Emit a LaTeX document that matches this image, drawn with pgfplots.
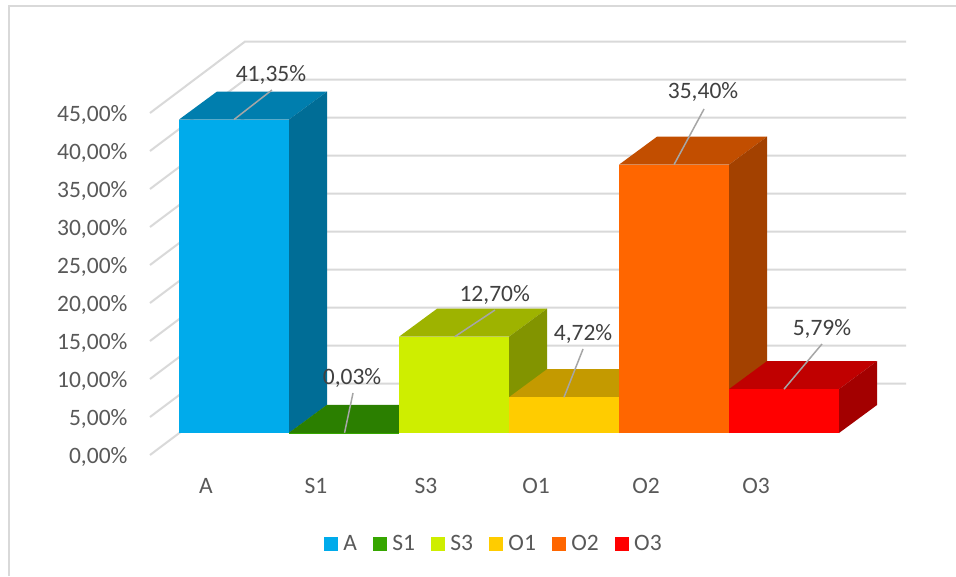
\documentclass[border=0pt]{standalone}
\usepackage{fontspec}
\setmainfont{Carlito}
\usepackage{pgfplots}
\pgfplotsset{compat=1.18}
\definecolor{grid}{HTML}{D9D9D9}
\definecolor{tick}{HTML}{595959}
\definecolor{lab}{HTML}{404040}
\definecolor{lead}{HTML}{A6A6A6}
\definecolor{Af}{HTML}{00ABEB}\definecolor{At}{HTML}{007EAE}\definecolor{As}{HTML}{006D96}
\definecolor{Bf}{HTML}{36A600}\definecolor{Bt}{HTML}{2B7F00}\definecolor{Bs}{HTML}{246B00}
\definecolor{Cf}{HTML}{CEEE00}\definecolor{Ct}{HTML}{9EB300}\definecolor{Cs}{HTML}{829400}
\definecolor{Df}{HTML}{FFCC00}\definecolor{Dt}{HTML}{C49A00}\definecolor{Ds}{HTML}{A38000}
\definecolor{Ef}{HTML}{FF6600}\definecolor{Et}{HTML}{C24E00}\definecolor{Es}{HTML}{A34100}
\definecolor{Ff}{HTML}{FF0000}\definecolor{Ft}{HTML}{C00000}\definecolor{Fs}{HTML}{A30000}
\newcommand{\bigf}{\fontsize{23.5}{28}\selectfont}
\pgfplotsset{
  gl/.style={draw=grid,line width=2pt,no markers,forget plot},
  face/.style={draw=none,no markers,forget plot},
  frontbar/.style={ybar,bar width=110pt,bar shift=0pt,draw=none,
    legend image code/.code={\fill[##1] (0pt,-7pt) rectangle (14pt,7pt);}},
}
\newcommand{\leader}[5]{%
  \draw[lead,line width=1.5pt] (axis cs:#1,#2) -- (axis cs:#3,#4);}
\newcommand{\lbl}[3]{\node[lab,font=\bigf,inner sep=0pt,yshift=-1.5pt] at (axis cs:#1,#2) {#3};}
\begin{document}
\begin{tikzpicture}
\useasboundingbox (0,0) rectangle (956pt,576pt);
\fill[white] (0,0) rectangle (956pt,576pt);
\draw[grid,line width=2pt] (9pt,0pt) -- (9pt,570pt) -- (956pt,570pt);
% frame axis: gridlines and tick labels
\begin{axis}[
  at={(0pt,0pt)},anchor=south west,scale only axis,width=956pt,height=576pt,
  xmin=-1.87273,xmax=6.81818,ymin=-15.92,ymax=59.87,clip=false,
  axis line style={draw=none},tick style={draw=none},major tick length=0pt,
  xtick={0,1,2,3,4,5},xticklabels={A,S1,S3,O1,O2,O3},
  ytick={0,5,10,15,20,25,30,35,40,45},
  yticklabels={{0,00\%},{5,00\%},{10,00\%},{15,00\%},{20,00\%},{25,00\%},{30,00\%},{35,00\%},{40,00\%},{45,00\%}},
  xticklabel style={font=\bigf,text=tick,anchor=center,yshift=90pt},
  yticklabel style={font=\bigf,text=tick,anchor=east,xshift=131pt,yshift=-1.5pt},
]
\addplot[gl] coordinates {(-0.5091,0) (0.3545,9.4) (6.3636,9.4)};
\addplot[gl] coordinates {(-0.5091,5) (0.3545,14.4) (6.3636,14.4)};
\addplot[gl] coordinates {(-0.5091,10) (0.3545,19.4) (6.3636,19.4)};
\addplot[gl] coordinates {(-0.5091,15) (0.3545,24.4) (6.3636,24.4)};
\addplot[gl] coordinates {(-0.5091,20) (0.3545,29.4) (6.3636,29.4)};
\addplot[gl] coordinates {(-0.5091,25) (0.3545,34.4) (6.3636,34.4)};
\addplot[gl] coordinates {(-0.5091,30) (0.3545,39.4) (6.3636,39.4)};
\addplot[gl] coordinates {(-0.5091,35) (0.3545,44.4) (6.3636,44.4)};
\addplot[gl] coordinates {(-0.5091,40) (0.3545,49.4) (6.3636,49.4)};
\addplot[gl] coordinates {(-0.5091,45) (0.3545,54.4) (6.3636,54.4)};
\end{axis}
% bars axis
\begin{axis}[
  at={(0pt,0pt)},anchor=south west,scale only axis,width=956pt,height=576pt,
  xmin=-2.12727,xmax=6.56364,ymin=-18.865,ymax=57.124,clip=false,
  axis lines=none,
  legend columns=6,
  legend style={at={(494/956,32/576)},anchor=center,draw=none,fill=none,inner sep=0pt,
    font=\bigf,text=tick,/tikz/every even column/.style={column sep=14.4pt},
    /tikz/every odd column/.style={column sep=3pt}},
]
% A
\addplot[face,fill=At] coordinates {(-0.5,41.35) (0.5,41.35) (0.8455,45.044) (-0.1545,45.044)};
\addplot[face,fill=As] coordinates {(0.5,0) (0.5,41.35) (0.8455,45.044) (0.8455,3.694)};
\addplot[frontbar,fill=Af] coordinates {(0,41.35)};
\addlegendentry{A}
% S1
\addplot[face,fill=Bt] coordinates {(0.5,0.03) (1.5,0.03) (1.8455,3.724) (0.8455,3.724)};
\addplot[face,fill=Bs] coordinates {(1.5,0) (1.5,0.03) (1.8455,3.724) (1.8455,3.694)};
\addplot[frontbar,fill=Bf] coordinates {(1,0.03)};
\addlegendentry{S1}
% S3
\addplot[face,fill=Ct] coordinates {(1.5,12.70) (2.5,12.70) (2.8455,16.394) (1.8455,16.394)};
\addplot[face,fill=Cs] coordinates {(2.5,0) (2.5,12.70) (2.8455,16.394) (2.8455,3.694)};
\addplot[frontbar,fill=Cf] coordinates {(2,12.70)};
\addlegendentry{S3}
% O1
\addplot[face,fill=Dt] coordinates {(2.5,4.72) (3.5,4.72) (3.8455,8.414) (2.8455,8.414)};
\addplot[face,fill=Ds] coordinates {(3.5,0) (3.5,4.72) (3.8455,8.414) (3.8455,3.694)};
\addplot[frontbar,fill=Df] coordinates {(3,4.72)};
\addlegendentry{O1}
% O2
\addplot[face,fill=Et] coordinates {(3.5,35.40) (4.5,35.40) (4.8455,39.094) (3.8455,39.094)};
\addplot[face,fill=Es] coordinates {(4.5,0) (4.5,35.40) (4.8455,39.094) (4.8455,3.694)};
\addplot[frontbar,fill=Ef] coordinates {(4,35.40)};
\addlegendentry{O2}
% O3
\addplot[face,fill=Ft] coordinates {(4.5,5.79) (5.5,5.79) (5.8455,9.484) (4.8455,9.484)};
\addplot[face,fill=Fs] coordinates {(5.5,0) (5.5,5.79) (5.8455,9.484) (5.8455,3.694)};
\addplot[frontbar,fill=Ff] coordinates {(5,5.79)};
\addlegendentry{O3}
% data labels
\leader{0}{41.35}{0.345}{45.25}{}
\leader{1.005}{0.03}{1.082}{5.28}{}
\leader{2.006}{12.70}{2.373}{16.23}{}
\leader{3}{4.72}{3.173}{11.08}{}
\leader{4}{35.40}{4.273}{42.74}{}
\leader{5}{5.79}{5.345}{11.74}{}
\lbl{0.336}{47.49}{41,35\%}
\lbl{1.073}{7.52}{0,03\%}
\lbl{2.370}{18.47}{12,70\%}
\lbl{3.173}{13.32}{4,72\%}
\lbl{4.264}{45.12}{35,40\%}
\lbl{5.345}{13.98}{5,79\%}
\end{axis}
\end{tikzpicture}
\end{document}
